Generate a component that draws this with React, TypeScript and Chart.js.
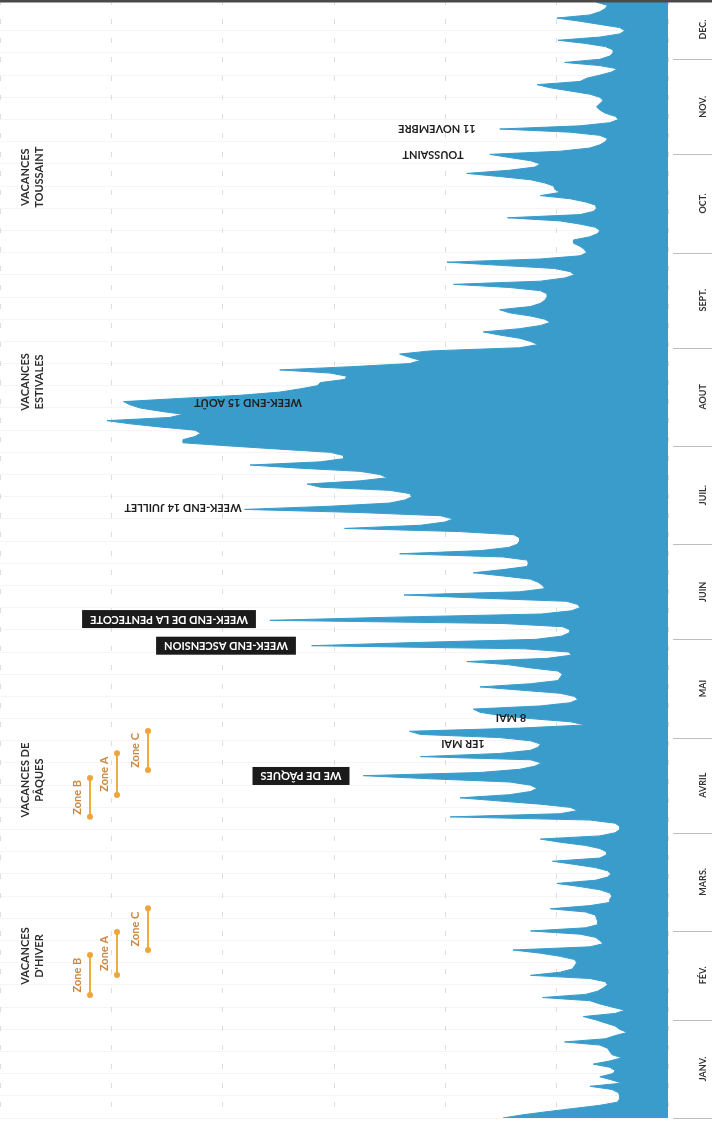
import { useEffect, useRef } from "react";
import { Chart, registerables } from "chart.js";

Chart.register(...registerables);

// ---- DATA ----------------------------------------------------------------
const MONTH_LABELS = ["JANV.", "FÉV.", "MARS.", "AVRIL", "MAI", "JUIN", "JUIL.", "AOUT", "SEPT.", "OCT.", "NOV.", "DEC."];
const MONTH_START_DAYS = [0, 31, 59, 90, 120, 151, 181, 212, 243, 273, 304, 334, 365];

const janValues = [150, 132, 110, 86, 62, 46, 44, 44, 45, 51, 71, 42, 51, 62, 50, 48, 53, 68, 53, 42, 51, 53, 55, 62, 94, 57, 48, 37, 44, 48, 57];
const febValues = [66, 77, 48, 39, 51, 62, 71, 114, 75, 64, 59, 55, 57, 71, 125, 98, 87, 85, 83, 85, 98, 116, 141, 71, 59, 62, 66, 80];
const marValues = [125, 75, 64, 64, 65, 66, 75, 107, 71, 53, 53, 51, 53, 62, 80, 101, 66, 55, 52, 55, 66, 85, 105, 62, 56, 56, 62, 75, 98, 116, 62];
const aprValues = [48, 44, 44, 48, 71, 198, 98, 82, 89, 116, 153, 189, 144, 125, 119, 125, 144, 216, 277, 171, 135, 121, 115, 125, 225, 153, 125, 118, 116, 125];
const mayValues = [153, 225, 235, 135, 75, 89, 125, 153, 171, 177, 116, 89, 82, 85, 98, 135, 171, 125, 100, 98, 96, 100, 125, 145, 183, 110, 88, 90, 130, 324, 230];
const junValues = [120, 97, 90, 89, 96, 150, 362, 250, 115, 88, 80, 82, 92, 170, 240, 135, 112, 114, 118, 125, 150, 177, 150, 128, 127, 128, 150, 244, 170, 145];
const julValues = [137, 135, 135, 140, 190, 294, 225, 203, 195, 207, 280, 385, 307, 253, 239, 233, 235, 253, 316, 328, 280, 255, 262, 280, 335, 380, 316, 295, 295, 307, 353];
const augValues = [398, 441, 441, 430, 425, 430, 462, 489, 510, 453, 441, 462, 480, 489, 495, 444, 389, 353, 335, 319, 316, 294, 292, 307, 353, 289, 235, 225, 235, 244, 216];
const sepValues = [135, 118, 125, 135, 153, 168, 135, 116, 107, 112, 125, 144, 153, 125, 116, 112, 110, 110, 116, 144, 195, 116, 94, 85, 89, 103, 153, 201, 116, 80];
const octValues = [74, 76, 80, 86, 86, 71, 64, 62, 66, 80, 98, 146, 80, 68, 65, 66, 75, 89, 116, 98, 103, 104, 112, 125, 153, 183, 144, 121, 116, 125, 144];
const novValues = [162, 98, 71, 62, 57, 55, 62, 89, 153, 80, 53, 45, 48, 57, 62, 65, 62, 59, 62, 71, 89, 107, 119, 80, 74, 62, 51, 46, 62, 94];
const decValues = [62, 53, 50, 50, 57, 75, 100, 62, 44, 39, 44, 62, 80, 101, 71, 62, 57, 55, 65, 65];

const VACATION_TITLES = [
  ["VACANCES", "D'HIVER"],
  ["VACANCES DE", "PÂQUES"],
  ["VACANCES", "ESTIVALES"],
  ["VACANCES", "TOUSSAINT"],
];
const VACATION_TITLE_DAYS = [51.1, 106.6, 232.2, 296.8];

const ZONE_NAMES = ["Zone B", "Zone A", "Zone C"];
const WINTER_ZONE_STARTS = [38.8, 45.1, 53];
const WINTER_ZONE_ENDS = [51.4, 58.7, 66.2];
const EASTER_ZONE_STARTS = [95, 101.9, 109.8];
const EASTER_ZONE_ENDS = [107.3, 115.1, 122.1];

const BOXED_NOTES = ["WE DE PÂQUES", "WEEK-END ASCENSION", "WEEK-END DE LA PENTECOTE"];
const BOXED_NOTE_DAYS = [107.9, 149, 157.4];
const PLAIN_NOTES = ["1ER MAI", "8 MAI", "WEEK-END 14 JUILLET", "WEEK-END 15 AOÛT", "TOUSSAINT", "11 NOVEMBRE"];
const PLAIN_NOTE_DAYS = [118, 126.2, 192.7, 225.6, 304.1, 312];

// ---- LAYOUT / STYLE -------------------------------------------------------
const BLUE = "#3a9ccb";
const BOXED_NOTE_CX = [301, 226, 169];
const PLAIN_NOTE_CX = [463, 511, 183, 248, 433, 437];
const ZONE_BRACKET_X = [90, 117, 148];

const overlayPlugin = {
  id: "overlay",
  afterDraw(chart: any) {
    const ctx: CanvasRenderingContext2D = chart.ctx;
    const ys = chart.scales.y;
    const area = chart.chartArea;
    const W = chart.width;
    ctx.save();

    // top frame line
    ctx.strokeStyle = "#4a4a4a";
    ctx.lineWidth = 3;
    ctx.beginPath();
    ctx.moveTo(0, 1);
    ctx.lineTo(W, 1);
    ctx.stroke();

    // month column separators
    ctx.strokeStyle = "#bdbdbd";
    ctx.lineWidth = 1;
    MONTH_START_DAYS.forEach((d) => {
      const py = Math.round(ys.getPixelForValue(d)) + 0.5;
      ctx.beginPath();
      ctx.moveTo(area.right + 5, py);
      ctx.lineTo(W, py);
      ctx.stroke();
    });

    // month labels
    ctx.fillStyle = "#333";
    ctx.font = "bold 9px Lato";
    ctx.textAlign = "center";
    ctx.textBaseline = "middle";
    MONTH_LABELS.forEach((lab, i) => {
      const mid = (MONTH_START_DAYS[i] + MONTH_START_DAYS[i + 1]) / 2;
      let py = ys.getPixelForValue(mid);
      if (py < 14) py = ys.getPixelForValue((MONTH_START_DAYS[i] + ys.max) / 2);
      ctx.save();
      ctx.translate(703, py);
      ctx.rotate(-Math.PI / 2);
      ctx.fillText(lab, 0, 0);
      ctx.restore();
    });

    // vacation titles
    ctx.fillStyle = "#2e2e2e";
    ctx.font = "bold 11px Lato";
    VACATION_TITLES.forEach((lines, i) => {
      const py = ys.getPixelForValue(VACATION_TITLE_DAYS[i]);
      lines.forEach((ln, j) => {
        ctx.save();
        ctx.translate(25 + j * 14, py);
        ctx.rotate(-Math.PI / 2);
        ctx.fillText(ln, 0, 0);
        ctx.restore();
      });
    });

    // zone brackets
    const drawZones = (starts: number[], ends: number[]) => {
      ZONE_NAMES.forEach((name, i) => {
        const bx = ZONE_BRACKET_X[i];
        const y1 = ys.getPixelForValue(starts[i]);
        const y2 = ys.getPixelForValue(ends[i]);
        ctx.strokeStyle = "#f0ad3c";
        ctx.lineWidth = 2;
        ctx.beginPath();
        ctx.moveTo(bx, y1);
        ctx.lineTo(bx, y2);
        ctx.stroke();
        ctx.fillStyle = "#eea53a";
        [y1, y2].forEach((yy) => {
          ctx.beginPath();
          ctx.arc(bx, yy, 3, 0, Math.PI * 2);
          ctx.fill();
        });
        ctx.fillStyle = "#cb8741";
        ctx.font = "bold 11px Lato";
        ctx.save();
        ctx.translate(bx - 13, (y1 + y2) / 2);
        ctx.rotate(-Math.PI / 2);
        ctx.fillText(name, 0, 0);
        ctx.restore();
      });
    };
    drawZones(WINTER_ZONE_STARTS, WINTER_ZONE_ENDS);
    drawZones(EASTER_ZONE_STARTS, EASTER_ZONE_ENDS);

    // boxed notes (upside down)
    ctx.font = "bold 11px Lato";
    BOXED_NOTES.forEach((t, i) => {
      const py = ys.getPixelForValue(BOXED_NOTE_DAYS[i]);
      const cx = BOXED_NOTE_CX[i];
      const w = ctx.measureText(t).width + 16;
      const h = 18;
      ctx.fillStyle = "#1b1b1b";
      ctx.fillRect(cx - w / 2, py - h / 2, w, h);
      ctx.save();
      ctx.translate(cx, py);
      ctx.rotate(Math.PI);
      ctx.fillStyle = "#ffffff";
      ctx.fillText(t, 0, 0);
      ctx.restore();
    });

    // plain notes (upside down)
    ctx.fillStyle = "#1e1e1e";
    PLAIN_NOTES.forEach((t, i) => {
      const py = ys.getPixelForValue(PLAIN_NOTE_DAYS[i]);
      ctx.save();
      ctx.translate(PLAIN_NOTE_CX[i], py);
      ctx.rotate(Math.PI);
      ctx.fillText(t, 0, 0);
      ctx.restore();
    });

    ctx.restore();
  },
};

export default function App() {
  const canvasRef = useRef<HTMLCanvasElement | null>(null);

  useEffect(() => {
    const canvas = canvasRef.current;
    if (!canvas) return;
    const values = [
      ...janValues, ...febValues, ...marValues, ...aprValues, ...mayValues, ...junValues,
      ...julValues, ...augValues, ...sepValues, ...octValues, ...novValues, ...decValues,
    ];
    const points = values.map((v, i) => ({ x: v, y: i }));
    const chart = new Chart(canvas, {
      type: "line",
      data: {
        datasets: [
          {
            data: points,
            borderColor: BLUE,
            backgroundColor: BLUE,
            borderWidth: 1,
            pointRadius: 0,
            fill: "origin",
            tension: 0,
          },
        ],
      },
      options: {
        indexAxis: "y",
        animation: false,
        responsive: false,
        devicePixelRatio: 1,
        layout: { autoPadding: false, padding: { left: 0, right: 44, top: 0, bottom: 5 } },
        plugins: { legend: { display: false }, tooltip: { enabled: false } },
        scales: {
          x: {
            type: "linear",
            reverse: true,
            min: 0,
            max: 607.3,
            ticks: { display: false, stepSize: 100 },
            grid: { color: "rgba(0,0,0,0.13)", drawTicks: false },
            border: { display: false, dash: [5, 14] },
          },
          y: {
            type: "linear",
            min: 0,
            max: 352.7,
            ticks: { display: false, stepSize: 7, maxTicksLimit: 100 },
            grid: { color: "rgba(200,170,178,0.13)", drawTicks: false },
            border: { display: false },
          },
        },
      } as any,
      plugins: [overlayPlugin],
    });
    return () => chart.destroy();
  }, []);

  return (
    <div style={{ position: "absolute", left: 0, top: 0, width: 712, height: 1123, background: "#fff" }}>
      <canvas ref={canvasRef} width={712} height={1123} style={{ display: "block" }} />
    </div>
  );
}
